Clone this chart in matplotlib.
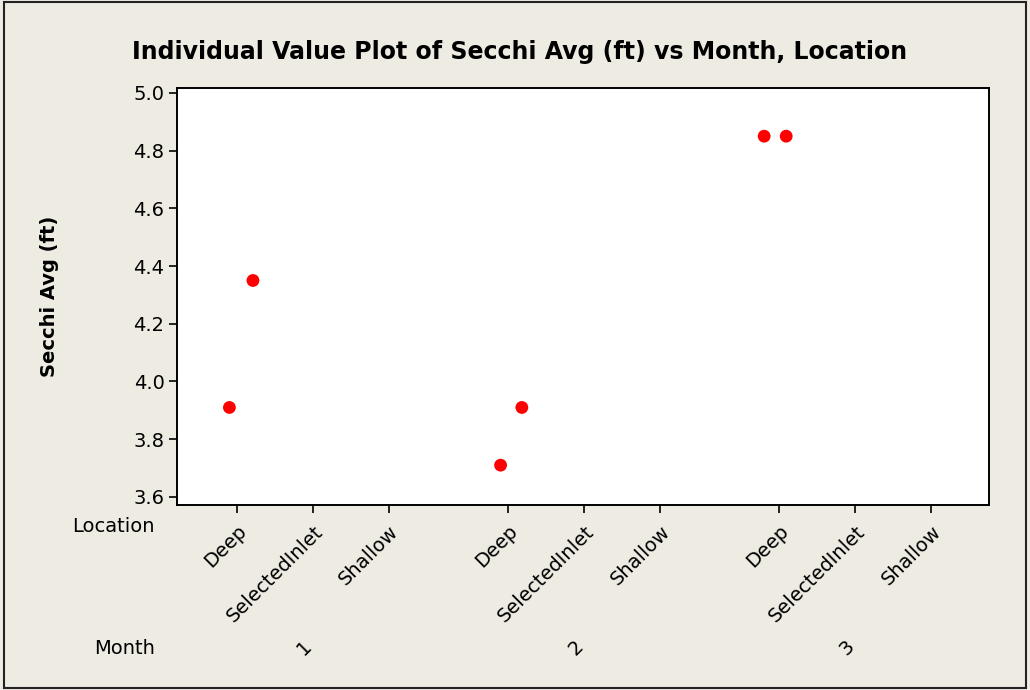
import matplotlib
matplotlib.use('Agg')
import matplotlib.pyplot as plt
from matplotlib.patches import Rectangle

months = ['1', '2', '3']
locations = ['Deep', 'SelectedInlet', 'Shallow']

# observed values (month, location, jitter offset, value)
obs_month = ['1', '1', '2', '2', '3', '3']
obs_loc = ['Deep', 'Deep', 'Deep', 'Deep', 'Deep', 'Deep']
obs_jitter = [-0.10, 0.21, -0.10, 0.18, -0.20, 0.09]
obs_value = [3.91, 4.35, 3.71, 3.91, 4.85, 4.85]

bg = '#eeebe2'
group_gap = 1.57

def xpos(m, loc):
    return months.index(m) * (len(locations) - 1 + group_gap) + locations.index(loc)

fig = plt.figure(figsize=(10.3, 6.9), dpi=100, facecolor=bg)
ax = fig.add_axes([177/1030, 1 - 505/690, (989-177)/1030, (505-88)/690])
ax.set_facecolor('white')

xs = [xpos(m, l) + j for m, l, j in zip(obs_month, obs_loc, obs_jitter)]
ax.scatter(xs, obs_value, s=85, color='#ff0000', edgecolors='none', zorder=3)

ticks = [xpos(m, l) for m in months for l in locations]
ax.set_xticks(ticks)
ax.set_xticklabels(locations * len(months), rotation=45, ha='right',
                   rotation_mode='anchor', fontsize=14)
ax.set_xlim(-0.79, ticks[-1] + 0.76)
ax.set_ylim(3.572, 5.017)
ax.set_yticks([3.6, 3.8, 4.0, 4.2, 4.4, 4.6, 4.8, 5.0])
ax.set_yticklabels(['3.6', '3.8', '4.0', '4.2', '4.4', '4.6', '4.8', '5.0'], fontsize=14)
ax.tick_params(direction='out', length=6, width=1.2, pad=3)
ax.tick_params(axis='x', pad=6)
for s in ax.spines.values():
    s.set_linewidth(1.4)

fig.text(50/1030, 1 - 296/690, 'Secchi Avg (ft)', rotation=90, ha='center', va='center',
         fontsize=14, fontweight='bold')
fig.text(520/1030, 1 - 52/690, 'Individual Value Plot of Secchi Avg (ft) vs Month, Location',
         ha='center', va='center', fontsize=17, fontweight='bold')

fig.text(155/1030, 1 - 527/690, 'Location', ha='right', va='center', fontsize=14)
fig.text(155/1030, 1 - 648/690, 'Month', ha='right', va='center', fontsize=14)
for m in months:
    xm = xpos(m, 'SelectedInlet')
    ax.annotate(m, xy=(xm, 0), xycoords=('data', 'axes fraction'),
                xytext=(-6, -103), textcoords='offset points',
                rotation=45, ha='center', va='center', fontsize=14)

fig.patches.append(Rectangle((4/1030, 2/690), 1022/1030, 686/690, transform=fig.transFigure,
                             fill=False, edgecolor='#222222', linewidth=1.5))

fig.savefig('out.png', dpi=100, facecolor=bg)
